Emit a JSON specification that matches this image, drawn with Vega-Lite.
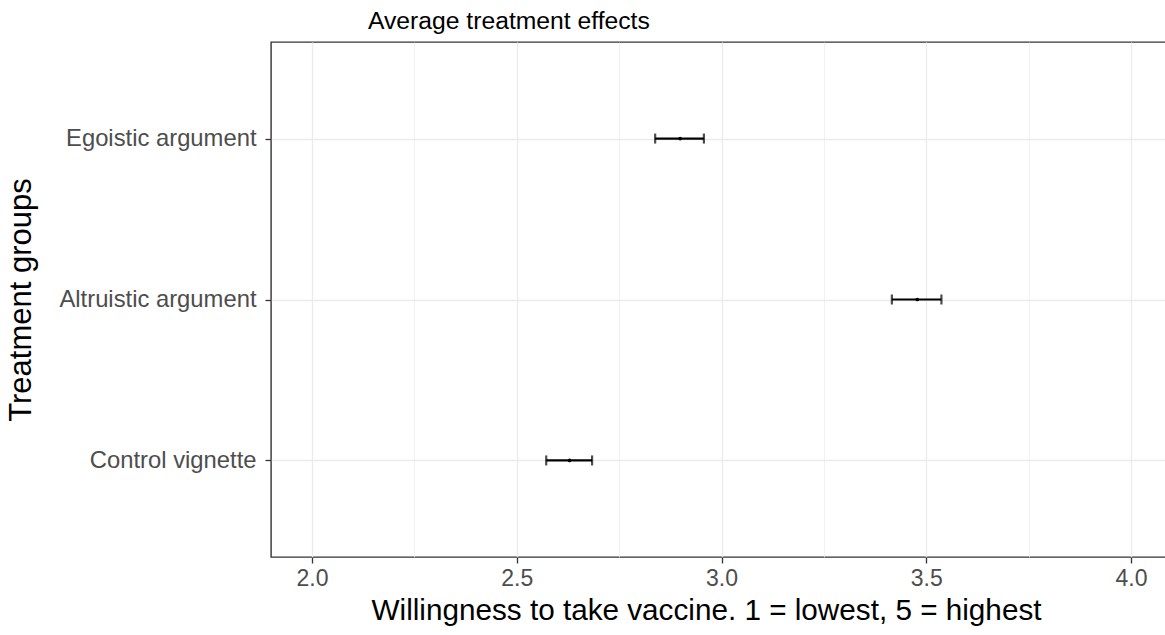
{
  "$schema": "https://vega.github.io/schema/vega-lite/v6.json",
  "autosize": "none",
  "width": 901,
  "height": 515,
  "padding": {"left": 271, "top": 42, "right": 0, "bottom": 78},
  "background": "white",
  "title": {
    "text": "Average treatment effects",
    "anchor": "start",
    "frame": "group",
    "dx": 97,
    "offset": 8,
    "fontSize": 24.7,
    "fontWeight": "normal",
    "font": "Liberation Sans",
    "color": "#000000"
  },
  "config": {
    "view": {"stroke": "#333333", "strokeWidth": 1.4},
    "font": "Liberation Sans"
  },
  "data": {
    "values": [
      {"group": "Egoistic argument", "mean": 2.899, "lo": 2.838, "hi": 2.957},
      {"group": "Altruistic argument", "mean": 3.478, "lo": 3.416, "hi": 3.537},
      {"group": "Control vignette", "mean": 2.629, "lo": 2.572, "hi": 2.684}
    ]
  },
  "encoding": {
    "y": {
      "field": "group",
      "type": "nominal",
      "sort": ["Egoistic argument", "Altruistic argument", "Control vignette"],
      "scale": {"type": "point", "padding": 0.6},
      "axis": {
        "title": "Treatment groups",
        "titleFontSize": 31,
        "titleFontWeight": "normal",
        "titleColor": "#000000",
        "titlePadding": 34,
        "labelFontSize": 23.8,
        "labelLimit": 400,
        "labelColor": "#4d4d4d",
        "labelPadding": 9,
        "tickSize": 6,
        "tickColor": "#333333",
        "tickWidth": 1.3,
        "domain": false,
        "grid": true,
        "gridColor": "#ebebeb",
        "gridWidth": 1.3
      }
    }
  },
  "layer": [
    {
      "mark": {"type": "rule", "color": "#000000", "strokeWidth": 2.2},
      "encoding": {
        "x": {
          "field": "lo",
          "type": "quantitative",
          "scale": {"domain": [1.9, 4.1], "nice": false, "zero": false},
          "axis": {
            "title": "Willingness to take vaccine. 1 = lowest, 5 = highest",
            "titleFontSize": 29.7,
            "titleFontWeight": "normal",
            "titleColor": "#000000",
            "titlePadding": 6,
            "titleX": 435,
            "titleAlign": "center",
            "values": [2, 2.25, 2.5, 2.75, 3, 3.25, 3.5, 3.75, 4],
            "labelExpr": "datum.value * 4 % 2 == 0 ? format(datum.value, '.1f') : ''",
            "labelFontSize": 23,
            "labelColor": "#4d4d4d",
            "labelPadding": 4,
            "tickSize": 6,
            "tickColor": "#333333",
            "tickWidth": 1.3,
            "tickOpacity": {"condition": {"test": "datum.value * 4 % 2 == 0", "value": 1}, "value": 0},
            "domain": false,
            "grid": true,
            "gridColor": "#ebebeb",
            "gridWidth": {"condition": {"test": "datum.value * 4 % 2 == 0", "value": 1.3}, "value": 0.7}
          }
        },
        "x2": {"field": "hi"}
      }
    },
    {
      "mark": {"type": "tick", "color": "#000000", "size": 10, "thickness": 2.2, "orient": "vertical"},
      "encoding": {"x": {"field": "lo", "type": "quantitative"}}
    },
    {
      "mark": {"type": "tick", "color": "#000000", "size": 10, "thickness": 2.2, "orient": "vertical"},
      "encoding": {"x": {"field": "hi", "type": "quantitative"}}
    },
    {
      "mark": {"type": "point", "filled": true, "color": "#000000", "size": 14, "opacity": 1},
      "encoding": {"x": {"field": "mean", "type": "quantitative"}}
    }
  ]
}
